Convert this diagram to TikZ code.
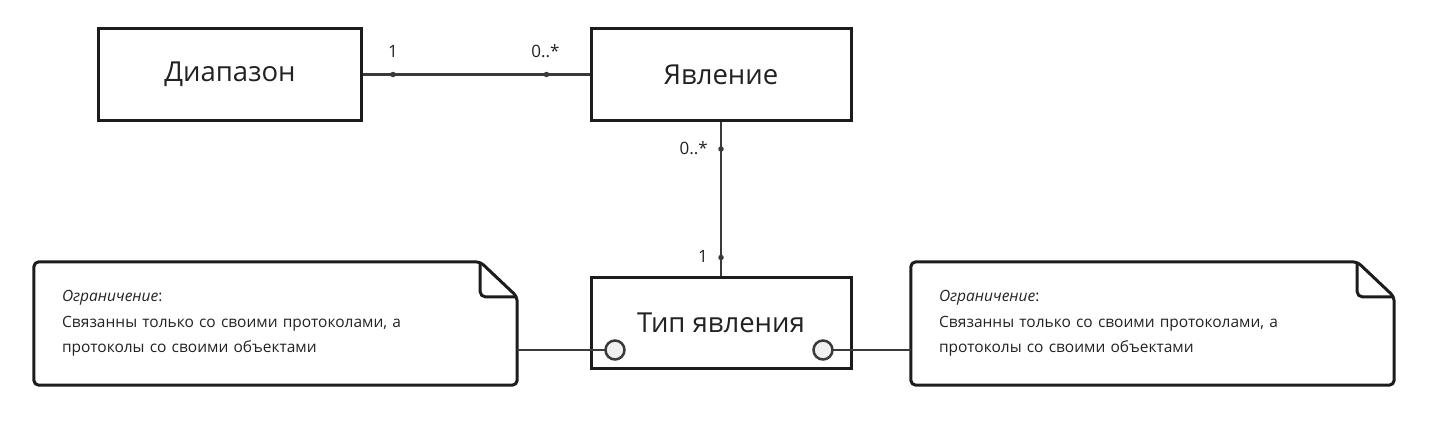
\documentclass[tikz,border=0pt]{standalone}
\usepackage{fontspec}
\setmainfont{Open Sans}
\usetikzlibrary{positioning}

\definecolor{edgegray}{HTML}{3A3A3A}
\definecolor{boxline}{HTML}{1C1C1C}
\definecolor{portfill}{HTML}{F0F0F0}
\definecolor{textgray}{HTML}{222222}

\tikzset{
  cls/.style={draw=boxline,line width=3pt,minimum width=260pt,minimum height=92pt,
    text=textgray,font=\fontsize{27.5}{31}\selectfont},
  assoc/.style={draw=edgegray,line width=2.5pt},
  enddot/.style={circle,fill=edgegray,inner sep=0pt,minimum size=5.5pt},
  mult/.style={text=textgray,font=\fontsize{17}{20}\selectfont,inner sep=1pt},
  port/.style={circle,draw=edgegray,fill=portfill,line width=2.5pt,minimum size=19pt,inner sep=0pt},
  notebox/.style={minimum width=483pt,minimum height=123pt,text width=427pt,align=left,
    inner xsep=28pt,text=textgray,font=\fontsize{15.5}{25.5}\selectfont},
  noteline/.style={draw=boxline,line width=3pt,rounded corners=5pt,line join=round}
}

\begin{document}
\begin{tikzpicture}[x=1pt,y=-1pt]
\useasboundingbox (0,0) rectangle (1430,421);

% classes
\node[cls,minimum width=263pt] (range) at (230,74.5) {Диапазон};
\node[cls] (phen) at (721,74.5) {Явление};
\node[cls,minimum height=91pt] (ptype) at (721,322.5) {Тип явления};

% associations
\draw[assoc] (range.east) -- (phen.west);
\node[enddot] (d1) at ([xshift=30pt]range.east) {};
\node[enddot] (d2) at ([xshift=-43pt]phen.west) {};
\node[mult,above=13pt of d1] {1};
\node[mult,above=13pt of d2,xshift=-1pt] {0..*};

\draw[assoc] (phen.south) -- (ptype.north);
\node[enddot] (d3) at ([yshift=-27pt]phen.south) {};
\node[enddot] (d4) at ([yshift=18pt]ptype.north) {};
\node[mult,left=9pt of d3,yshift=1pt] {0..*};
\node[mult,left=9pt of d4,yshift=1pt] {1};

% notes
\node[notebox] (noteL) at (275.5,323.5) {\textit{Ограничение}:\\Связанны только со своими протоколами, а\\протоколы со своими объектами};
\node[notebox] (noteR) at (1152.5,323.5) {\textit{Ограничение}:\\Связанны только со своими протоколами, а\\протоколы со своими объектами};

\foreach \n in {noteL,noteR}{
  \draw[noteline] (\n.north west) -- ([xshift=-37pt]\n.north east)
    -- ([yshift=-35pt]\n.north east) -- (\n.south east) -- (\n.south west) -- cycle;
  \draw[noteline] ([xshift=-37pt]\n.north east) -- ([xshift=-37pt,yshift=-35pt]\n.north east)
    -- ([yshift=-35pt]\n.north east);
}

% ports
\coordinate (pL) at (615,350);
\coordinate (pR) at (823,350);
\draw[assoc] (pL) -- (pL -| noteL.east);
\draw[assoc] (pR) -- (pR -| noteR.west);
\node[port] (portL) at (pL) {};
\node[port] (portR) at (pR) {};
\end{tikzpicture}
\end{document}
